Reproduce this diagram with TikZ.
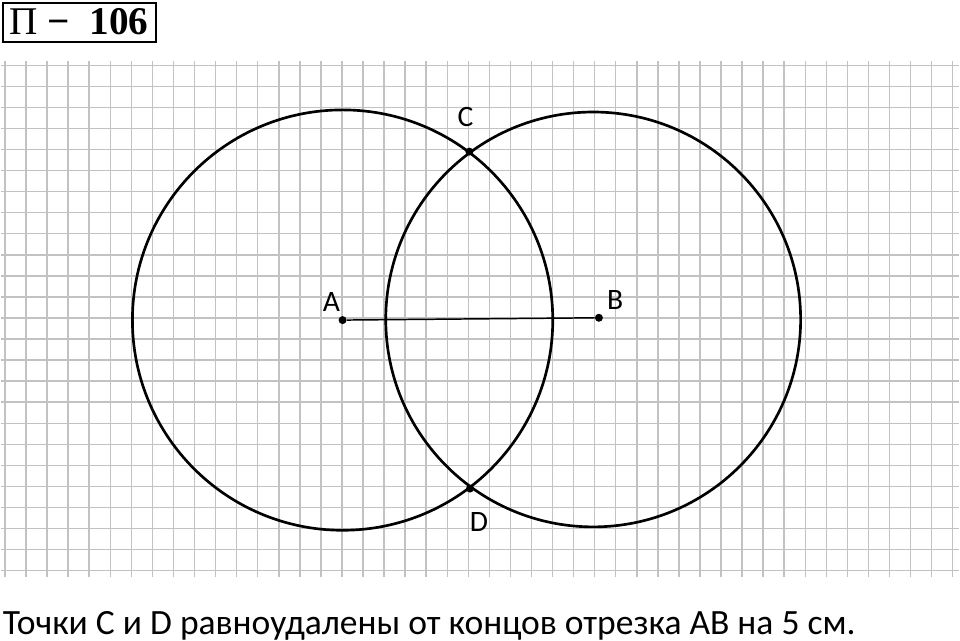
\documentclass[tikz,border=0pt]{standalone}
\usepackage{fontspec}
\setmainfont{Carlito}
\newfontfamily\titlefont{Liberation Serif}
\usetikzlibrary{positioning}

\begin{document}
\begin{tikzpicture}[
    x=0.5cm,y=0.5cm,on grid,
    gridline/.style={draw=black!24,line width=1pt},
    ring/.style={draw=black,line width=1.8pt},
    segment/.style={draw=black,line width=1pt},
    dot/.style={circle,fill=black,inner sep=0pt,minimum size=1.9mm},
    ptlabel/.style={inner sep=0pt,font=\fontsize{20}{23}\selectfont},
    titlebox/.style={draw=black,line width=1.4pt,inner sep=0pt,
        minimum width=3.63cm,minimum height=0.925cm,
        font=\titlefont\fontsize{26.5}{28}\selectfont},
    caption/.style={inner sep=0pt,anchor=base west,
        font=\fontsize{24}{29}\selectfont}
]
 \useasboundingbox (-0.2374,-3.338) rectangle (45.347,27.099);

 % squared paper
 \draw[gridline,step=0.5cm] (-0.2,-0.28) grid (45.28,24.18);

 % points
 \node[dot] (A) at (16.03,11.90) {};
 \node[dot] (B) at (28.20,12.01) {};
 \node[dot] (C) at (22.05,19.90) {};
 \node[dot] (D) at (22.08,3.90) {};
 \coordinate (Bc) at (27.93,11.93);

 % circles of radius 5 cm
 \draw[ring] (A) circle[radius=9.98];
 \draw[ring] (Bc) circle[radius=9.85];
 \draw[segment] (A) -- (B);

 \node[ptlabel] (lA) [above left=4.3mm and 2.65mm of A] {A};
 \node[ptlabel] (lB) [above right=4.1mm and 3.85mm of B] {B};
 \node[ptlabel] (lC) [above left=8.2mm and 0.9mm of C] {C};
 \node[ptlabel] (lD) [below right=7.9mm and 2.15mm of D] {D};

 \node[titlebox] (title) at (3.52,26.05) {П\hspace{0.25em}\textbf{−}\hspace{0.5em}\textbf{106}};

 \node[caption] (note) at (-0.12,-3.006)
    {Точки C и D равноудалены от концов отрезка AB на 5 см.};
\end{tikzpicture}
\end{document}
